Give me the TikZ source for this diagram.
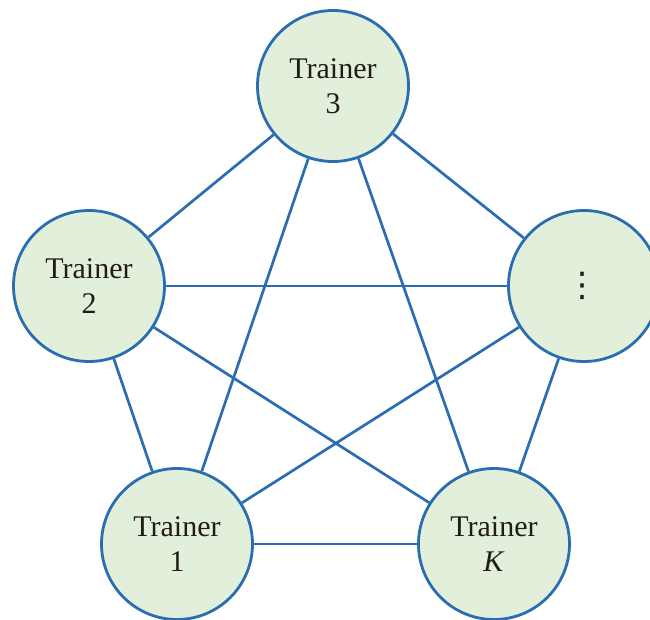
\documentclass[tikz,border=0pt]{standalone}
\usepackage{fontspec}
\setmainfont{Liberation Serif}
\newfontfamily\symbolfont{DejaVu Sans}
\definecolor{edgeblue}{HTML}{2A6DB0}
\definecolor{nodegreen}{HTML}{E2EFDA}
\definecolor{textdark}{HTML}{221C18}
\begin{document}
\begin{tikzpicture}[x=1pt,y=-1pt,
  trainer/.style={circle,draw=edgeblue,fill=nodegreen,line width=2.8pt,
    minimum size=151pt,inner sep=0pt,align=center,text=textdark,
    font=\fontsize{30}{35}\selectfont},
  link/.style={draw=edgeblue,line width=2.7pt}]
  \useasboundingbox (0,0) rectangle (650,620);
  \clip (0,0) rectangle (650,620);
  % the five trainers
  \node[trainer] (t3) at (333,86)  {Trainer\\3};
  \node[trainer] (t2) at (89,286)  {Trainer\\2};
  \node[trainer] (td) at (584,286) {};
  \node[trainer] (t1) at (177,544) {Trainer\\1};
  \node[trainer] (tk) at (494,544) {Trainer\\\textit{K}};
  % vertical ellipsis for the remaining trainers
  \node[inner sep=0pt,text=textdark,
    font=\symbolfont\fontsize{34}{34}\selectfont] (dots) at (582,286) {⋮};
  % every pair of trainers is connected
  \foreach \a/\b in {t3/t2,t3/td,t3/t1,t3/tk,t2/td,t2/t1,t2/tk,td/t1,td/tk,t1/tk}
    \draw[link] (\a) -- (\b);
\end{tikzpicture}
\end{document}
